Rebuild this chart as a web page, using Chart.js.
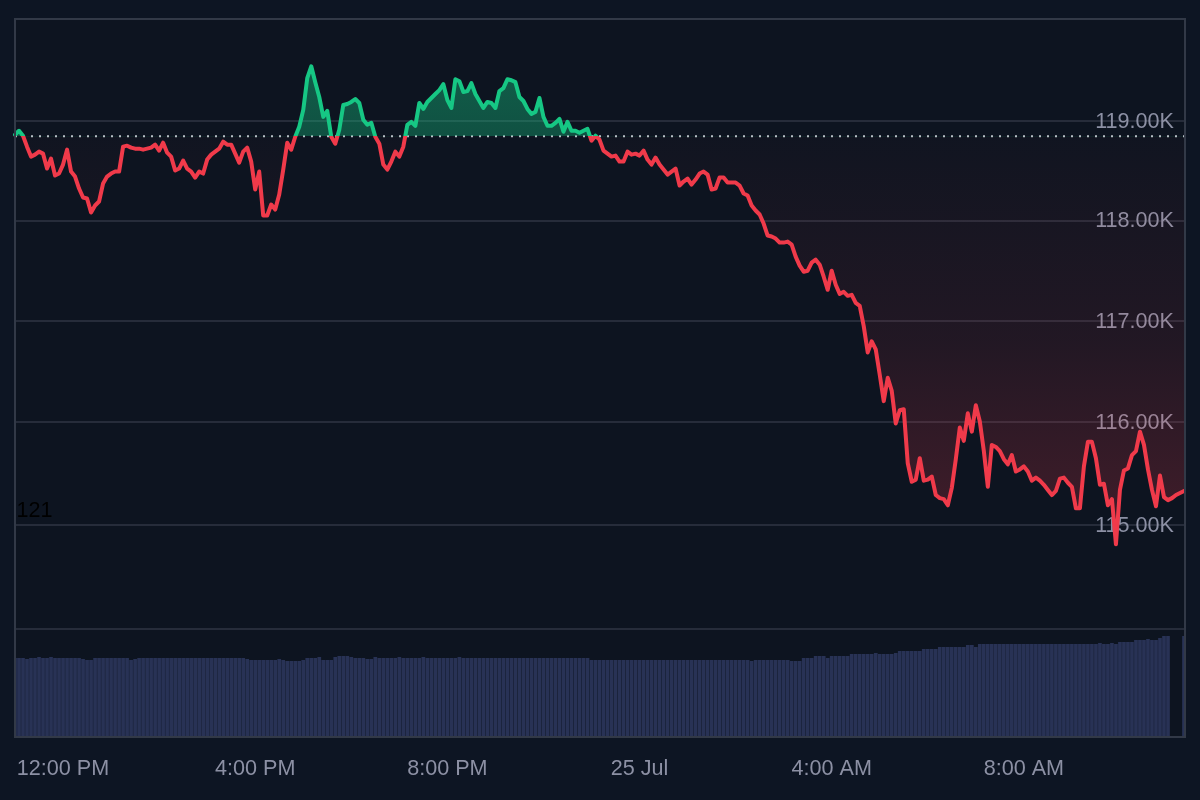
<!DOCTYPE html>
<html><head><meta charset="utf-8">
<style>html,body{margin:0;padding:0;background:#0d1523;overflow:hidden}canvas{display:block}</style>
<script src="https://cdn.jsdelivr.net/npm/chart.js@4"></script></head>
<body><div style="width:1200px;height:800px;position:relative"><canvas id="c" width="1200" height="800"></canvas></div>
<script>
const prices = [
118.86,118.90,118.85,118.74,118.64,118.66,118.69,118.67,118.52,118.62,118.45,118.47,118.56,118.71,118.49,118.44,118.32,118.23,118.22,118.08,
118.15,118.19,118.37,118.44,118.47,118.49,118.49,118.74,118.75,118.73,118.72,118.72,118.71,118.72,118.73,118.76,118.70,118.78,118.68,118.64,
118.50,118.52,118.60,118.52,118.49,118.43,118.49,118.47,118.61,118.66,118.69,118.72,118.79,118.76,118.76,118.67,118.58,118.69,118.73,118.59,
118.31,118.49,118.05,118.05,118.16,118.11,118.26,118.51,118.78,118.71,118.84,118.94,119.11,119.43,119.55,119.39,119.24,119.04,119.10,118.84,
118.77,118.91,119.16,119.17,119.19,119.22,119.18,119.01,118.96,118.98,118.84,118.77,118.56,118.51,118.59,118.69,118.64,
118.74,118.96,118.99,118.95,119.18,119.12,119.19,119.23,119.27,119.31,119.37,119.21,119.13,119.42,119.40,119.29,119.30,119.38,119.27,119.20,
119.13,119.19,119.18,119.13,119.30,119.33,119.42,119.41,119.39,119.24,119.20,119.12,119.07,119.09,119.23,119.04,118.95,118.95,118.98,119.02,
118.89,118.99,118.90,118.90,118.88,118.90,118.92,118.80,118.85,118.81,118.70,118.67,118.64,118.65,118.59,118.59,118.69,118.66,118.67,118.65,
118.70,118.61,118.56,118.63,118.56,118.51,118.46,118.49,118.52,118.35,118.39,118.42,118.36,118.41,118.47,118.49,118.46,118.31,118.32,118.43,
118.43,118.38,118.38,118.38,118.35,118.27,118.25,118.15,118.10,118.06,117.97,117.85,117.84,117.82,
117.78,117.78,117.79,117.76,117.64,117.55,117.49,117.50,117.58,117.61,117.56,117.44,117.31,117.50,117.36,117.27,117.29,117.25,117.26,117.18,
117.15,116.95,116.69,116.80,116.72,116.47,116.21,116.44,116.31,115.99,116.12,116.13,115.60,115.42,115.44,115.65,115.43,115.44,115.47,115.29,115.26,
115.25,115.19,115.36,115.64,115.95,115.82,116.09,115.91,116.17,116.01,115.72,115.37,115.78,115.76,115.72,115.64,115.59,115.68,115.52,115.54,
115.57,115.52,115.43,115.46,115.43,115.39,115.34,115.29,115.33,115.45,115.46,115.41,115.37,115.16,115.16,115.57,115.81,115.81,115.65,115.39,
115.40,115.19,115.25,114.81,115.34,115.53,115.55,115.68,115.72,115.91,115.78,115.54,115.34,115.18,115.48,115.27,115.24,115.26,115.29,115.31,115.33
];
const volumes = [
79,79,79,78,79,79,80,79,79,80, 79,79,79,79,79,79,79, 78,77,77,
79,79,79,79,79,79,79,79,79, 77,78,
79,79,79,79,79,79,79,79,79,79, 79,79,79,79,79,79,79,79,79,79, 79,79,79,79,79,79,79,
78,77,77,77,77,77,77,77,78,77, 76,76,76,76,77, 79,79,79, 80, 77,77,77, 80,81,81,81,80, 79,79,79,78,78, 80,
79,79,79,79,79,80,79,79,79,79,79, 80, 79,79,79,79,79,79,79,79, 80,
79,79,79,79,79,79,79,79,79,79,79,79,79,79,79,79, 79,79,79,79,79,79,79,79,79,79,79,79,79,79,79,79,
77,77,77,77,77,77,77,77,77,77, 77,77,77,77,77,77,77,77,77,77, 77,77,77,77,77,77,77,77,77,77, 77,77,77,77,77,77,77,77,77,77,
76, 77,77,77,77,77,77,77,77,77, 76,76,76, 79,79,79, 81,81,81, 79, 81,81,81,81,81, 83,83,83,83,83,83, 84, 83,83,83,83,84,
86,86,86,86,86,86, 88,88,88,88, 90,90,90,90,90,90,90, 92,92, 90,
93,93,93,93,93,93,93,93,93,93, 93,93,93,93,93,93,93,93,93,93, 93,93,93,93,93,93,93,93,93,93,
94, 93,93, 94, 93, 95,95,95,95, 97,97,97, 98, 97,97, 99, 101,101, null,null,null, 101
];
const tickLabels = ['12:00 PM','4:00 PM','8:00 PM','25 Jul','4:00 AM','8:00 AM'];
const priceTicks = [115,116,117,118,119];
const baseValue = 118.845;
const priceMin = 113.99, priceMax = 120.03;
const volumeMax = 108;
const strayLabel = '121';

const categories = prices.map((_, i) => (i - 12) % 48 === 0 ? tickLabels[(i - 12) / 48] : 'slot' + i);

const FONT = 'Liberation Sans, Arial, sans-serif';
const GRID = '#262c3a', TXT = '#8c90a4', RED = '#f03a4a', GREEN = '#16c784';

const frame = {
  id: 'frame',
  beforeDraw(ch) {
    const a = ch.chartArea, g = ch.ctx;
    g.save();
    g.fillStyle = '#0d1420';
    g.fillRect(a.left, a.top, a.width + 1, a.height);
    g.restore();
  },
  afterDraw(ch) {
    const a = ch.chartArea, g = ch.ctx;
    g.save();
    g.strokeStyle = '#323947';
    g.lineWidth = 2;
    g.strokeRect(a.left, a.top, a.width + 1, a.height);
    g.fillStyle = '#000000';
    g.font = '21.6px ' + FONT;
    g.textBaseline = 'middle';
    g.fillText(strayLabel, a.left + 1.5, 511);
    g.restore();
  }
};

const chart = new Chart(document.getElementById('c'), {
  type: 'line',
  plugins: [frame],
  data: {
    labels: categories,
    datasets: [
      { type: 'line', label: 'Price', data: prices, yAxisID: 'y', order: 1,
        borderColor: RED, borderWidth: 4, pointRadius: 0, tension: 0,
        borderJoinStyle: 'round', borderCapStyle: 'round',
        fill: { target: { value: baseValue }, above: 'rgba(22,199,132,.36)', below: 'rgba(242,58,74,.1)' } },
      { type: 'line', label: 'Base', yAxisID: 'y', order: 2,
        data: [{ x: categories[0], y: baseValue }, { x: categories[categories.length - 1], y: baseValue }],
        borderColor: '#bfc2ca', borderWidth: 2, borderDash: [2, 6], pointRadius: 0, fill: false },
      { type: 'bar', label: 'Volume', data: volumes, yAxisID: 'vol', order: 3,
        backgroundColor: '#283255', barPercentage: 0.92, categoryPercentage: 1, borderWidth: 0 }
    ]
  },
  options: {
    responsive: false, animation: false, devicePixelRatio: 1,
    layout: { autoPadding: false, padding: { left: 15, right: 16, top: 19, bottom: 0 } },
    plugins: { legend: { display: false }, tooltip: { enabled: false } },
    scales: {
      x: {
        type: 'category', offset: false,
        grid: { display: false }, border: { display: false },
        afterFit(s) { s.height = 63; },
        ticks: {
          autoSkip: false, maxRotation: 0, minRotation: 0, padding: 11, labelOffset: 0,
          color: TXT, font: { family: FONT, size: 21.6 },
          callback(v) { const l = this.getLabelForValue(v); return tickLabels.includes(l) ? l : ''; }
        }
      },
      y: {
        type: 'logarithmic', position: 'right', stack: 'panes', stackWeight: 610,
        min: priceMin, max: priceMax,
        afterBuildTicks(s) { s.ticks = priceTicks.map(value => ({ value })); },
        afterFit(s) { s.width = 0; },
        grid: { color: GRID, lineWidth: 2, drawTicks: false }, border: { display: false },
        ticks: {
          mirror: true, padding: -10, labelOffset: 1, color: TXT, font: { family: FONT, size: 21.6 },
          callback: v => Number(v).toFixed(2) + 'K'
        }
      },
      vol: {
        type: 'linear', position: 'right', stack: 'panes', stackWeight: 108,
        min: 0, max: volumeMax,
        afterBuildTicks(s) { s.ticks = [{ value: volumeMax }]; },
        afterFit(s) { s.width = 0; },
        grid: { color: GRID, lineWidth: 2, drawTicks: false }, border: { display: false },
        ticks: { display: false }
      }
    }
  }
});

const yS = chart.scales.y, g2 = chart.ctx;
const basePx = yS.getPixelForValue(baseValue);
const areaTop = chart.chartArea.top, paneBottom = yS.bottom;
const frac = (basePx - areaTop) / (paneBottom - areaTop);
const stroke = g2.createLinearGradient(0, areaTop, 0, paneBottom);
stroke.addColorStop(0, GREEN); stroke.addColorStop(frac, GREEN);
stroke.addColorStop(frac, RED); stroke.addColorStop(1, RED);
const fillAbove = g2.createLinearGradient(0, yS.getPixelForValue(119.6), 0, basePx);
fillAbove.addColorStop(0, 'rgba(22,199,132,.42)'); fillAbove.addColorStop(1, 'rgba(22,199,132,.34)');
const fillBelow = g2.createLinearGradient(0, basePx, 0, yS.getPixelForValue(114.8));
fillBelow.addColorStop(0, 'rgba(242,58,74,.015)'); fillBelow.addColorStop(0.5, 'rgba(242,58,74,.09)'); fillBelow.addColorStop(1, 'rgba(242,58,74,.24)');
const ds = chart.data.datasets[0];
ds.borderColor = stroke;
ds.fill = { target: { value: baseValue }, above: fillAbove, below: fillBelow };
chart.update('none');
</script></body></html>
